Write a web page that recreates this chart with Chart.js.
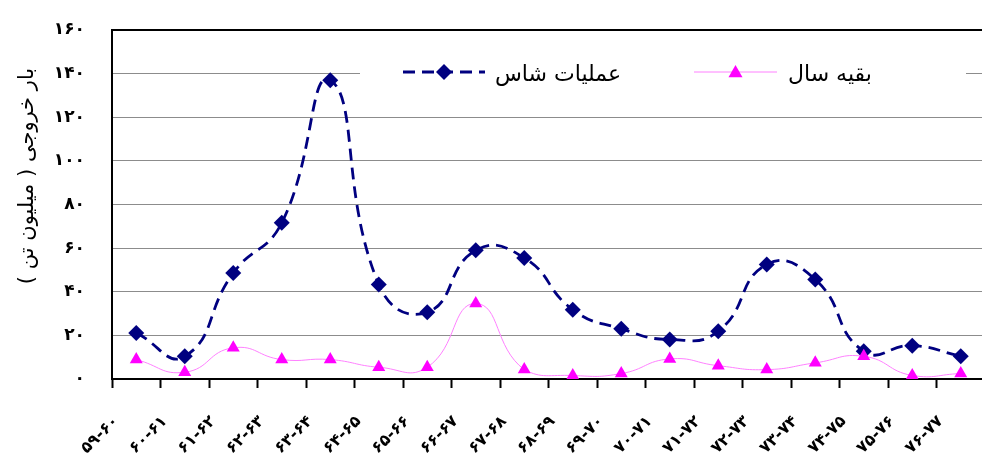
<!DOCTYPE html>
<html lang="fa">
<head>
<meta charset="UTF-8">
<title>بار خروجی</title>
<script src="https://cdn.jsdelivr.net/npm/chart.js"></script>
<style>
  html, body { margin: 0; padding: 0; background: #fff; overflow: hidden; }
  #wrap { width: 993px; height: 459px; }
</style>
</head>
<body>
<div id="wrap"><canvas id="chart" width="993" height="459"></canvas></div>

<script>
// سال‌ها (محور افقی)
const years = ['۵۹-۶۰', '۶۰-۶۱', '۶۱-۶۲', '۶۲-۶۳', '۶۳-۶۴', '۶۴-۶۵', '۶۵-۶۶', '۶۶-۶۷', '۶۷-۶۸',
               '۶۸-۶۹', '۶۹-۷۰', '۷۰-۷۱', '۷۱-۷۲', '۷۲-۷۳', '۷۳-۷۴', '۷۴-۷۵', '۷۵-۷۶', '۷۶-۷۷'];
const shasOps    = [21.1, 10.4, 48.6, 71.6, 137.0, 43.3, 30.6, 59.0, 55.5, 31.8, 23.0, 18.1, 21.9, 52.5, 45.6, 12.7, 15.3, 10.4];
const restOfYear = [8.9, 3.1, 14.3, 8.9, 8.9, 5.4, 5.4, 34.6, 4.3, 1.6, 2.5, 9.2, 6.1, 4.3, 7.4, 10.4, 1.6, 2.5];
const yTicks = ['۰', '۲۰', '۴۰', '۶۰', '۸۰', '۱۰۰', '۱۲۰', '۱۴۰', '۱۶۰'];
const seriesNames = ['عملیات شاس', 'بقیه سال'];
const yTitle = 'بار خروجی ( میلیون تن )';

const FONT = "'DejaVu Sans', sans-serif";

function marker(ctx, style, x, y, r, color) {
  ctx.save();
  ctx.fillStyle = color;
  ctx.beginPath();
  if (style === 'rectRot') {
    ctx.moveTo(x, y - r); ctx.lineTo(x + r, y); ctx.lineTo(x, y + r); ctx.lineTo(x - r, y);
  } else {
    ctx.moveTo(x, y - r); ctx.lineTo(x + r, y + r * 0.75); ctx.lineTo(x - r, y + r * 0.75);
  }
  ctx.closePath();
  ctx.fill();
  ctx.restore();
}

// legend box inside plot + y title
const decor = {
  id: 'decor',
  beforeDatasetsDraw(chart) {
    const ctx = chart.ctx;
    ctx.save();
    ctx.fillStyle = '#fff';
    ctx.fillRect(360, 52, 606, 42);
    ctx.restore();
  },
  afterDraw(chart) {
    const ctx = chart.ctx;
    const ly = 72;
    const spots = [{ x1: 403, x2: 485, tx: 495 }, { x1: 694, x2: 777, tx: 788 }];
    chart.data.datasets.forEach((ds, i) => {
      const s = spots[i];
      ctx.save();
      ctx.strokeStyle = ds.borderColor;
      ctx.lineWidth = ds.borderWidth;
      ctx.setLineDash(ds.borderDash || []);
      ctx.beginPath(); ctx.moveTo(s.x1, ly); ctx.lineTo(s.x2, ly); ctx.stroke();
      ctx.restore();
      marker(ctx, ds.pointStyle, (s.x1 + s.x2) / 2, ly, ds.pointStyle === 'rectRot' ? 8 : 7, ds.backgroundColor);
      ctx.save();
      ctx.fillStyle = '#000';
      ctx.font = '22px ' + FONT;
      ctx.direction = 'rtl';
      ctx.textAlign = 'left';
      ctx.textBaseline = 'middle';
      ctx.fillText(ds.label, s.tx, ly + 3);
      ctx.restore();
    });

    ctx.save();
    ctx.translate(28, 176);
    ctx.rotate(-Math.PI / 2);
    ctx.fillStyle = '#000';
    ctx.font = '21px ' + FONT;
    ctx.direction = 'rtl';
    ctx.textAlign = 'center';
    ctx.textBaseline = 'middle';
    ctx.fillText(yTitle, 0, 0);
    ctx.restore();
  }
};

new Chart(document.getElementById('chart'), {
  type: 'line',
  data: {
    labels: years,
    datasets: [
      {
        label: seriesNames[0], data: shasOps, order: 2,
        borderColor: '#000080', backgroundColor: '#000080', borderWidth: 2.8, borderDash: [12, 7],
        pointStyle: 'rectRot', pointRadius: 8, pointBorderWidth: 0, tension: 0.5, fill: false
      },
      {
        label: seriesNames[1], data: restOfYear, order: 1,
        borderColor: '#ff80ff', backgroundColor: '#ff00ff', borderWidth: 1,
        pointStyle: 'triangle', pointRadius: 7.5, pointBorderWidth: 0, tension: 0.5, fill: false
      }
    ]
  },
  options: {
    responsive: false,
    animation: false,
    layout: { padding: { top: 30, left: 0, right: 0, bottom: 0 } },
    plugins: { legend: { display: false }, tooltip: { enabled: false } },
    scales: {
      x: {
        offset: true,
        grid: { offset: true, drawOnChartArea: false, tickLength: 9, tickColor: '#000', tickWidth: 2 },
        border: { color: '#000', width: 2 },
        ticks: {
          autoSkip: false, minRotation: 45, maxRotation: 45, labelOffset: -20, padding: 24,
          color: '#000', font: { family: FONT, weight: 'bold', size: 16 }
        },
        afterFit: s => { s.height = 80; s.paddingLeft = 0; s.paddingRight = 0; }
      },
      y: {
        min: 0, max: 160,
        ticks: {
          stepSize: 20, padding: 27, color: '#000',
          font: { family: FONT, weight: 'bold', size: 17 },
          callback: (v, i) => yTicks[i]
        },
        grid: {
          drawTicks: false,
          color: c => c.tick.value === 160 ? '#000' : (c.tick.value === 0 ? 'rgba(0,0,0,0)' : '#8c8c8c'),
          lineWidth: c => c.tick.value === 160 ? 2 : 1
        },
        border: { color: '#000', width: 2 },
        afterFit: s => { s.width = 112; s.paddingTop = 0; s.paddingBottom = 0; }
      }
    }
  },
  plugins: [decor]
});
</script>
</body>
</html>
